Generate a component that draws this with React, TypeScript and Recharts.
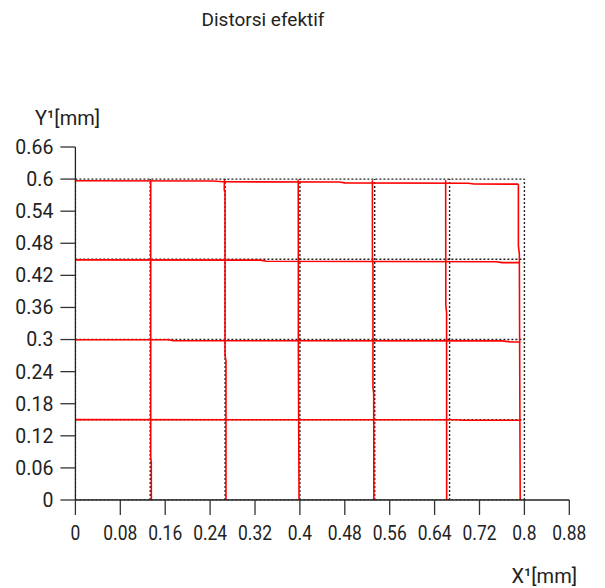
import { LineChart, Line, XAxis, YAxis } from 'recharts';

// nominal grid (black dotted) positions
const gridX = [0, 0.1333, 0.2667, 0.4, 0.5333, 0.6667, 0.8];
const gridY = [0, 0.15, 0.3, 0.45, 0.6];

const xTicks = [0, 0.08, 0.16, 0.24, 0.32, 0.4, 0.48, 0.56, 0.64, 0.72, 0.8, 0.88];
const yTicks = [0, 0.06, 0.12, 0.18, 0.24, 0.3, 0.36, 0.42, 0.48, 0.54, 0.6, 0.66];

// measured (distorted) grid, red. verticals bottom -> top, horizontals left -> right
const redV1 = [[0.1353, 0], [0.1352, 0.07], [0.1342, 0.08], [0.1342, 0.597]];
const redV2 = [[0.2683, 0], [0.2683, 0.26], [0.2666, 0.27], [0.2666, 0.575], [0.2652, 0.58], [0.2655, 0.599]];
const redV3 = [[0.3985, 0], [0.3978, 0.15], [0.3972, 0.3], [0.3972, 0.45], [0.397, 0.599]];
const redV4 = [[0.5318, 0], [0.5315, 0.2], [0.5302, 0.21], [0.5302, 0.44], [0.5292, 0.45], [0.5292, 0.598]];
const redV5 = [[0.6615, 0], [0.6613, 0.35], [0.66, 0.365], [0.6597, 0.598]];
const redV6 = [[0.7925, 0], [0.7915, 0.3], [0.791, 0.46], [0.7893, 0.475], [0.7893, 0.5905]];

const redH1 = [[0, 0.1502], [0.68, 0.15], [0.69, 0.149], [0.7925, 0.149]];
const redH2 = [[0, 0.2995], [0.165, 0.2995], [0.175, 0.298], [0.76, 0.2975], [0.775, 0.2955], [0.7915, 0.2955]];
const redH3 = [[0, 0.449], [0.33, 0.4485], [0.34, 0.4465], [0.75, 0.4455], [0.76, 0.4438], [0.791, 0.4438]];
const redH4 = [[0, 0.5968], [0.245, 0.5965], [0.263, 0.595], [0.47, 0.5945], [0.48, 0.593], [0.7, 0.5922], [0.71, 0.5907], [0.7893, 0.5905]];

const redLines = [redV1, redV2, redV3, redV4, redV5, redV6, redH1, redH2, redH3, redH4];

const toPts = (pts: number[][]) => pts.map(([x, y]) => ({ x, y }));

const gridLines = [
  ...gridX.map((gx) => [[gx, 0], [gx, 0.6]]),
  ...gridY.map((gy) => [[0, gy], [0.8, gy]]),
];

const FONT = 'Roboto, "Liberation Sans", sans-serif';

function XTick({ x, y, payload }: any) {
  return (
    <g transform={`translate(${x},${y})`}>
      <text x={0} y={0} dy="0.71em" textAnchor="middle" transform="scale(0.87,1)"
        fontSize={20} fontFamily={FONT} fill="#222">
        {payload.value}
      </text>
    </g>
  );
}

export default function App() {
  return (
    <div style={{ position: 'absolute', left: 0, top: 0, width: 605, height: 588, background: '#fff' }}>
      <LineChart width={605} height={588} margin={{ top: 147, right: 35.7, bottom: 28, left: 0 }}>
        <XAxis
          type="number"
          dataKey="x"
          domain={[0, 0.88]}
          ticks={xTicks}
          allowDataOverflow
          height={60}
          tickSize={15}
          tickMargin={11}
          axisLine={{ stroke: '#222', strokeWidth: 1.3 }}
          tickLine={{ stroke: '#333', strokeWidth: 1.3 }}
          tick={<XTick />}
          interval={0}
        />
        <YAxis
          type="number"
          dataKey="y"
          domain={[0, 0.66]}
          ticks={yTicks}
          allowDataOverflow
          width={75.4}
          tickSize={15}
          tickMargin={7}
          axisLine={{ stroke: '#222', strokeWidth: 1.3 }}
          tickLine={{ stroke: '#333', strokeWidth: 1.3 }}
          tick={{ fontSize: 19.5, fontFamily: FONT, fill: '#222' }}
          interval={0}
        />
        {gridLines.map((pts, i) => (
          <Line key={'g' + i} data={toPts(pts)} dataKey="y" type="linear" stroke="#222"
            strokeWidth={1.4} strokeDasharray="2 2" dot={false} activeDot={false}
            isAnimationActive={false} />
        ))}
        {redLines.map((pts, i) => (
          <Line key={'r' + i} data={toPts(pts)} dataKey="y" type="linear" stroke="#ff0000"
            strokeWidth={1.6} dot={false} activeDot={false} isAnimationActive={false} />
        ))}
      </LineChart>
      <svg width={605} height={588} style={{ position: 'absolute', left: 0, top: 0, pointerEvents: 'none' }}>
        <text x={263} y={26} textAnchor="middle" fontSize={19} fontFamily={FONT} fill="#222">
          Distorsi efektif
        </text>
        <text x={35} y={125} textAnchor="start" fontSize={20} fontFamily={FONT} fill="#222">
          Y¹[mm]
        </text>
        <text x={577} y={583} textAnchor="end" fontSize={20} fontFamily={FONT} fill="#222">
          X¹[mm]
        </text>
      </svg>
    </div>
  );
}
